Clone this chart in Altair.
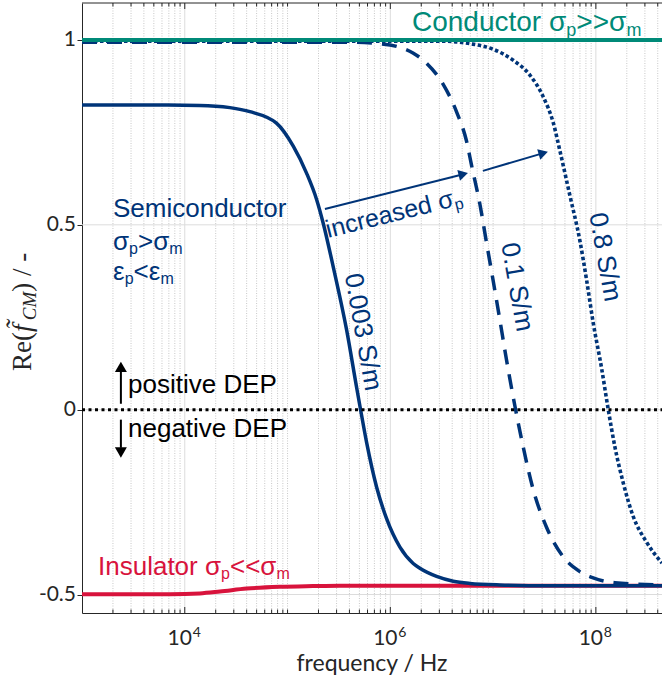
import altair as alt
import pandas as pd

# ---------------- data ----------------
# frequency in Hz, real part of Clausius-Mossotti factor
semi_003_f = [1.0e3, 4.6e3, 1.4e4, 2.75e4, 4.3e4, 7.8e4, 1.14e5, 1.53e5, 1.92e5, 2.22e5,
              2.79e5, 3.76e5, 4.7e5, 5.06e5, 5.89e5, 7.36e5, 9.2e5, 1.24e6, 1.67e6, 1.94e6,
              2.82e6, 4.09e6, 5.94e6, 1.16e7, 3.57e7, 4.4e8]
semi_003_v = [0.824, 0.824, 0.823, 0.817, 0.806, 0.775, 0.712, 0.640, 0.568, 0.505,
              0.385, 0.215, 0.060, 0.010, -0.090, -0.210, -0.295, -0.372, -0.416, -0.429,
              -0.451, -0.464, -0.470, -0.474, -0.476, -0.476]

semi_01_f = [1.0e3, 4.05e5, 7.9e5, 1.24e6, 1.66e6, 2.25e6, 3.27e6, 4.42e6, 5.52e6, 6.18e6,
             7.45e6, 8.65e6, 1.0e7, 1.16e7, 1.35e7, 1.63e7, 1.96e7, 2.45e7, 3.31e7, 4.81e7,
             6.98e7, 9.42e7, 1.53e8, 4.4e8]
semi_01_v = [0.994, 0.994, 0.990, 0.980, 0.965, 0.937, 0.880, 0.805, 0.726, 0.660,
             0.555, 0.450, 0.350, 0.245, 0.135, 0.010, -0.100, -0.215, -0.318, -0.398,
             -0.438, -0.455, -0.468, -0.474]

semi_08_f = [1.0e3, 3.03e6, 5.94e6, 1.0e7, 1.57e7, 2.28e7, 3.08e7, 3.85e7, 4.47e7, 5.58e7,
             6.98e7, 8.13e7, 9.42e7, 1.14e8, 1.32e8, 1.53e8, 1.85e8, 2.31e8, 3.11e8, 4.4e8]
semi_08_v = [0.997, 0.997, 0.990, 0.975, 0.945, 0.905, 0.846, 0.776, 0.700, 0.580,
             0.458, 0.350, 0.235, 0.110, 0.000, -0.100, -0.199, -0.289, -0.358, -0.415]

insul_f = [1.0e3, 7.2e3, 1.4e4, 2.2e4, 4.0e4, 8.4e4, 1.77e5, 3.2e5, 4.4e8]
insul_v = [-0.499, -0.499, -0.497, -0.492, -0.484, -0.479, -0.477, -0.476, -0.476]

cond_f = [1.0e3, 4.4e8]
cond_v = [1.0, 1.0]

zero_f = [1.0e3, 4.4e8]
zero_v = [0.0, 0.0]

# axis ticks
y_ticks = [-0.5, 0.0, 0.5, 1.0]
y_tick_labels = ["-0.5", "0", "0.5", "1"]
x_major = [1e4, 1e6, 1e8]
x_major_exp = ["4", "6", "8"]
mantissas = [1, 2, 3, 4, 5, 6, 7, 8, 9]
decades = [3, 4, 5, 6, 7, 8]

# arrows (data units): "increased sigma_p" arrows and DEP arrows
arrow1_f = [2.31e5, 5.13e6]
arrow1_v = [0.543, 0.637]
arrow2_f = [7.96e6, 3.08e7]
arrow2_v = [0.646, 0.694]
dep_f = 2.39e3
up_v = [0.016, 0.103]
up_head_v = 0.1157
down_v = [-0.027, -0.103]
down_head_v = -0.116

# ---------------- styling ----------------
FMIN, FMAX = 1e3, 4.4e8
VMIN, VMAX = -0.55, 1.1
W, H = 580, 610
PL, PT = 82, 3
NAVY = "#003478"
TEAL = "#008a78"
RED = "#d8133c"
AXC = "#262626"
SANS = "Liberation Sans"

xs = alt.Scale(type="log", domain=[FMIN, FMAX], nice=False)
ys = alt.Scale(domain=[VMIN, VMAX], nice=False, zero=False)

XAX = alt.Axis(orient="bottom", labels=False, ticks=False, grid=False, domain=True,
               domainColor=AXC, domainWidth=1, title=None)
YAX = alt.Axis(orient="left", values=y_ticks, grid=False, domain=True, domainColor=AXC,
               domainWidth=1, ticks=True, tickSize=5, tickColor=AXC, tickWidth=1,
               labels=False, title=None)


def X(field="f"):
    return alt.X(f"{field}:Q", scale=xs, axis=XAX)


def Y(field="v"):
    return alt.Y(f"{field}:Q", scale=ys, axis=YAX)


def df(f, v):
    return pd.DataFrame({"f": f, "v": v})


minor_f = [m * 10 ** d for d in decades for m in mantissas
           if FMIN < m * 10 ** d <= FMAX and m * 10 ** d not in x_major]

layers = []

# grid
layers.append(alt.Chart(pd.DataFrame({"f": minor_f})).mark_rule(
    color="#c8c8c8", strokeDash=[1, 1.5], strokeWidth=1).encode(x=X()))
layers.append(alt.Chart(pd.DataFrame({"f": x_major})).mark_rule(
    color="#dcdcdc", strokeWidth=1).encode(x=X()))
layers.append(alt.Chart(pd.DataFrame({"v": y_ticks})).mark_rule(
    color="#dcdcdc", strokeWidth=1).encode(y=Y()))

# inward ticks on bottom and top
for vals, ln in [(x_major, 6), (minor_f, 3.5)]:
    d = pd.DataFrame({"f": vals})
    layers.append(alt.Chart(d).mark_rule(color=AXC, strokeWidth=1).encode(
        x=X(), y=alt.value(H), y2=alt.value(H - ln)))
    layers.append(alt.Chart(d).mark_rule(color=AXC, strokeWidth=1).encode(
        x=X(), y=alt.value(0), y2=alt.value(ln)))

# top frame line
layers.append(alt.Chart(pd.DataFrame({"a": [0]})).mark_rule(color=AXC, strokeWidth=1).encode(
    x=alt.value(0), x2=alt.value(W), y=alt.value(0)))

# curves
layers.append(alt.Chart(df(insul_f, insul_v)).mark_line(
    color=RED, strokeWidth=4, interpolate="monotone").encode(x=X(), y=Y()))
layers.append(alt.Chart(df(semi_003_f, semi_003_v)).mark_line(
    color=NAVY, strokeWidth=3.5, interpolate="monotone").encode(x=X(), y=Y()))
layers.append(alt.Chart(df(semi_01_f, semi_01_v)).mark_line(
    color=NAVY, strokeWidth=3.5, strokeDash=[15, 10], interpolate="monotone").encode(x=X(), y=Y()))
layers.append(alt.Chart(df(semi_08_f, semi_08_v)).mark_line(
    color=NAVY, strokeWidth=3.6, strokeDash=[3.5, 2.5], interpolate="monotone").encode(x=X(), y=Y()))
layers.append(alt.Chart(df(cond_f, cond_v)).mark_line(
    color=TEAL, strokeWidth=4).encode(x=X(), y=Y()))
layers.append(alt.Chart(df(zero_f, zero_v)).mark_line(
    color="#000000", strokeWidth=3, strokeDash=[3, 3.5]).encode(x=X(), y=Y()))

# arrows
for fa, va, ang in [(arrow1_f, arrow1_v, 345.9), (arrow2_f, arrow2_v, 343.7)]:
    layers.append(alt.Chart(df(fa, va)).mark_line(color=NAVY, strokeWidth=2).encode(x=X(), y=Y()))
    layers.append(alt.Chart(df([fa[1]], [va[1]])).mark_point(
        shape="triangle-right", filled=True, size=121, color=NAVY, opacity=1, angle=ang).encode(x=X(), y=Y()))
layers.append(alt.Chart(df([dep_f, dep_f], up_v)).mark_line(color="#000000", strokeWidth=2).encode(x=X(), y=Y()))
layers.append(alt.Chart(df([dep_f], [up_head_v])).mark_point(
    shape="triangle-up", filled=True, size=144, color="#000000", opacity=1).encode(x=X(), y=Y()))
layers.append(alt.Chart(df([dep_f, dep_f], down_v)).mark_line(color="#000000", strokeWidth=2).encode(x=X(), y=Y()))
layers.append(alt.Chart(df([dep_f], [down_head_v])).mark_point(
    shape="triangle-down", filled=True, size=144, color="#000000", opacity=1).encode(x=X(), y=Y()))

# y tick labels
yt = pd.DataFrame({"v": y_ticks, "t": y_tick_labels})
layers.append(alt.Chart(yt).mark_text(font="Lato", fontSize=21, color=AXC, align="right",
                                      baseline="middle").encode(
    x=alt.value(-6), y=Y(), text="t:N"))

# x tick labels 10^n
xt = pd.DataFrame({"f": x_major, "b": ["10"] * 3, "e": x_major_exp})
layers.append(alt.Chart(xt).mark_text(font="Lato", fontSize=21, color=AXC, align="center",
                                      baseline="alphabetic", dx=-5).encode(
    x=X(), y=alt.value(645 - PT), text="b:N"))
layers.append(alt.Chart(xt).mark_text(font="Lato", fontSize=14, color=AXC, align="center",
                                      baseline="alphabetic", dx=12).encode(
    x=X(), y=alt.value(637 - PT), text="e:N"))

ONE = pd.DataFrame({"a": [0]})
AW = {'C': .722, 'o': .556, 'n': .556, 'd': .556, 'u': .556, 'c': .5, 't': .278, 'r': .333,
      ' ': .278, 'σ': .62, 'p': .556, '>': .584, '<': .584, 'm': .833, 'ε': .45, 'S': .667,
      'e': .556, 'i': .222, 'I': .278, 's': .5, 'l': .222, 'a': .556}
SERIF_W = {"Re(": 1.444, "f\u0303": 0.36, "CM": 1.5, ") / -": 1.444}


def text(s, x, y, size, color, angle=0, align="left", baseline="alphabetic", font=SANS,
         dx=0, dy=0, style="normal"):
    kw = dict(text=s, font=font, fontSize=size, color=color, align=align, baseline=baseline,
              dx=dx, dy=dy, fontStyle=style)
    if angle:
        kw["angle"] = angle
    return alt.Chart(ONE).mark_text(**kw).encode(x=alt.value(x - PL), y=alt.value(y - PT))


def rich(pieces, x, y, color, angle=0, main=26, sub=16, subdy=4):
    out = []
    off = 0.0
    for s, is_sub in pieces:
        size = sub if is_sub else main
        out.append(text(s, x, y, size, color, angle=angle, dx=off, dy=subdy if is_sub else 0))
        off += sum(AW.get(c, .556) for c in s) * size
    return out


layers += rich([("Conductor σ", 0), ("p", 1), (">>σ", 0), ("m", 1)], 412, 31, TEAL,
               main=28, sub=18, subdy=5)
layers.append(text("Semiconductor", 113, 217, 26, NAVY))
layers += rich([("σ", 0), ("p", 1), (">σ", 0), ("m", 1)], 113, 250, NAVY)
layers += rich([("ε", 0), ("p", 1), ("<ε", 0), ("m", 1)], 113, 280, NAVY)
layers.append(text("positive DEP", 128, 393, 26, "#000000"))
layers.append(text("negative DEP", 128, 437, 26, "#000000"))
layers += rich([("Insulator σ", 0), ("p", 1), ("<<σ", 0), ("m", 1)], 98, 575, RED)
layers += rich([("increased σ", 0), ("p", 1)], 328, 238, NAVY, angle=346, main=25)
layers.append(text("0.003 S/m", 363, 332, 26, NAVY, angle=80, align="center", baseline="middle"))
layers.append(text("0.1 S/m", 517, 287, 26, NAVY, angle=80, align="center", baseline="middle"))
layers.append(text("0.8 S/m", 605, 257, 26, NAVY, angle=80, align="center", baseline="middle"))

# axis titles
layers.append(text("frequency / Hz", PL + W / 2, 671, 23, AXC, align="center", font="Lato"))
off = 0.0
for s, sz, st, dy in [("Re(", 27, "normal", 0), ("f\u0303", 27, "italic", 0),
                      ("CM", 19, "italic", 5), (") / -", 27, "normal", 0)]:
    layers.append(text(s, 31, 371, sz, AXC, angle=270, font="Liberation Serif", dx=off,
                       dy=dy, style=st))
    off += SERIF_W[s] * sz + (2 if s == "f\u0303" else 0)

chart = alt.layer(*layers).properties(
    width=W, height=H,
    padding={"left": PL, "top": PT, "right": 662 - PL - W, "bottom": 684 - PT - H},
    autosize=alt.AutoSizeParams(type="none"),
    background="white",
).configure_view(stroke=None)

chart.save("out.html", embed_options={"renderer": "svg", "actions": False})
